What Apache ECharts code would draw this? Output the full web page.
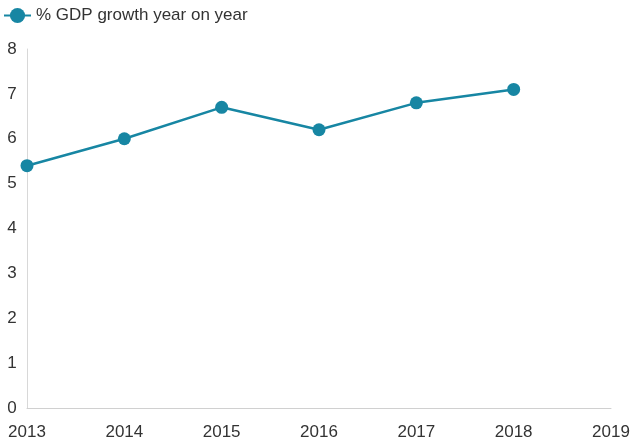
<!DOCTYPE html>
<html>
<head>
<meta charset="utf-8">
<script src="https://cdn.jsdelivr.net/npm/echarts@6/dist/echarts.min.js"></script>
<style>
  html, body { margin: 0; padding: 0; background: #ffffff; }
  #chart { width: 640px; height: 443px; }
</style>
</head>
<body>
<div id="chart"></div>
<script>
// data
var years = [2013, 2014, 2015, 2016, 2017, 2018];
var growth = [5.4, 6.0, 6.7, 6.2, 6.8, 7.1];
var seriesName = '% GDP growth year on year';

var points = [];
for (var i = 0; i < years.length; i++) {
  points.push([years[i], growth[i]]);
}

var chart = echarts.init(document.getElementById('chart'));

var option = {
  backgroundColor: '#ffffff',
  color: ['#1786a3'],
  textStyle: { fontFamily: 'Liberation Sans, Arial, sans-serif' },
  legend: {
    left: -2,
    top: 2,
    itemWidth: 27,
    itemHeight: 19,
    itemGap: 8,
    textStyle: { fontSize: 17, color: '#333333', fontFamily: 'Liberation Sans, Arial, sans-serif' },
    data: [seriesName]
  },
  grid: {
    left: 27,
    right: 29,
    top: 49,
    bottom: 35,
    containLabel: false
  },
  xAxis: {
    type: 'value',
    min: 2013,
    max: 2019,
    interval: 1,
    axisLine: { show: true, lineStyle: { color: '#d0d0d0', width: 1 } },
    axisTick: { show: false },
    splitLine: { show: false },
    axisLabel: {
      color: '#333333',
      fontSize: 17,
      margin: 16,
      formatter: function (v) { return String(v); }
    }
  },
  yAxis: {
    type: 'value',
    min: 0,
    max: 8,
    interval: 1,
    axisLine: { show: true, lineStyle: { color: '#d8d8d8', width: 1 } },
    axisTick: { show: false },
    splitLine: { show: false },
    axisLabel: {
      color: '#333333',
      fontSize: 17,
      margin: 15,
      align: 'center'
    }
  },
  series: [{
    name: seriesName,
    type: 'line',
    data: points,
    symbol: 'circle',
    symbolSize: 13,
    lineStyle: { width: 2.5, color: '#1786a3' },
    itemStyle: { color: '#1786a3' }
  }]
};

chart.setOption(option);
</script>
</body>
</html>
